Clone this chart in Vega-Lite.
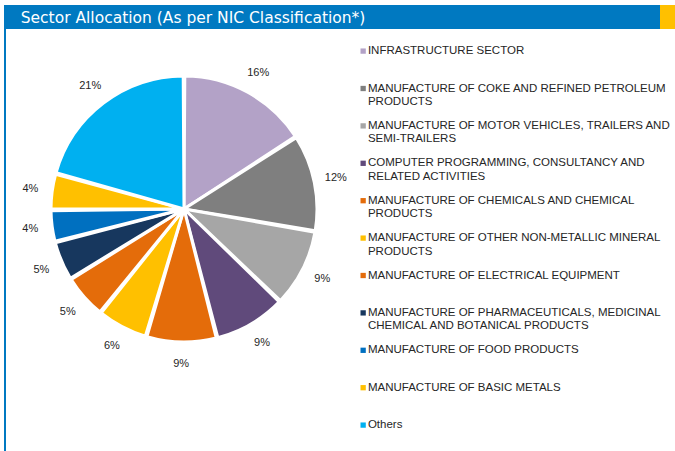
{
  "$schema": "https://vega.github.io/schema/vega-lite/v6.json",
  "padding": {"left": 4, "top": 5, "right": 0, "bottom": 0},
  "background": "#ffffff",
  "spacing": 0,
  "config": {"view": {"stroke": null}, "font": "Liberation Sans"},
  "datasets": {
    "sectors": [
      {"sector": "INFRASTRUCTURE SECTOR", "share": 15.9, "label": "16%"},
      {"sector": "MANUFACTURE OF COKE AND REFINED PETROLEUM PRODUCTS", "share": 11.8, "label": "12%"},
      {"sector": "MANUFACTURE OF MOTOR VEHICLES, TRAILERS AND SEMI-TRAILERS", "share": 9.5, "label": "9%"},
      {"sector": "COMPUTER PROGRAMMING, CONSULTANCY AND RELATED ACTIVITIES", "share": 8.8, "label": "9%"},
      {"sector": "MANUFACTURE OF CHEMICALS AND CHEMICAL PRODUCTS", "share": 8.6, "label": "9%"},
      {"sector": "MANUFACTURE OF OTHER NON-METALLIC MINERAL PRODUCTS", "share": 6.2, "label": "6%"},
      {"sector": "MANUFACTURE OF ELECTRICAL EQUIPMENT", "share": 5.4, "label": "5%"},
      {"sector": "MANUFACTURE OF PHARMACEUTICALS, MEDICINAL CHEMICAL AND BOTANICAL PRODUCTS", "share": 4.8, "label": "5%"},
      {"sector": "MANUFACTURE OF FOOD PRODUCTS", "share": 3.9, "label": "4%"},
      {"sector": "MANUFACTURE OF BASIC METALS", "share": 4.4, "label": "4%"},
      {"sector": "Others", "share": 20.7, "label": "21%"}
    ],
    "heading": [
      {"heading": "Sector Allocation (As per NIC Classification*)"}
    ]
  },
  "vconcat": [
    {
      "spacing": 0,
      "hconcat": [
        {
          "width": 656,
          "height": 24,
          "view": {"fill": "#0079C1", "stroke": null},
          "data": {"name": "heading"},
          "mark": {
            "type": "text",
            "align": "left",
            "baseline": "alphabetic",
            "color": "#ffffff",
            "font": "DejaVu Sans",
            "fontSize": 15.5,
            "fontWeight": "normal"
          },
          "encoding": {
            "text": {"field": "heading", "type": "nominal"},
            "x": {"value": 16.7},
            "y": {"value": 17.7}
          }
        },
        {
          "width": 15,
          "height": 24,
          "view": {"fill": "#FFC000", "stroke": null},
          "data": {"values": []},
          "mark": "point",
          "encoding": {}
        }
      ]
    },
    {
      "spacing": 0,
      "hconcat": [
        {
          "width": 2,
          "height": 422,
          "view": {"fill": "#0079C1", "stroke": null},
          "data": {"values": []},
          "mark": "point",
          "encoding": {}
        },
        {
          "width": 356,
          "height": 360,
          "data": {"name": "sectors"},
          "transform": [{"window": [{"op": "row_number", "as": "idx"}]}],
          "encoding": {
            "theta": {"field": "share", "type": "quantitative", "stack": true},
            "order": {"field": "idx", "type": "quantitative"}
          },
          "layer": [
            {
              "mark": {"type": "arc", "outerRadius": 133, "stroke": "#ffffff", "strokeWidth": 3, "padAngle": 0.012},
              "encoding": {
                "color": {
                  "field": "sector",
                  "type": "nominal",
                  "scale": {
                    "domain": [
                      "INFRASTRUCTURE SECTOR",
                      "MANUFACTURE OF COKE AND REFINED PETROLEUM PRODUCTS",
                      "MANUFACTURE OF MOTOR VEHICLES, TRAILERS AND SEMI-TRAILERS",
                      "COMPUTER PROGRAMMING, CONSULTANCY AND RELATED ACTIVITIES",
                      "MANUFACTURE OF CHEMICALS AND CHEMICAL PRODUCTS",
                      "MANUFACTURE OF OTHER NON-METALLIC MINERAL PRODUCTS",
                      "MANUFACTURE OF ELECTRICAL EQUIPMENT",
                      "MANUFACTURE OF PHARMACEUTICALS, MEDICINAL CHEMICAL AND BOTANICAL PRODUCTS",
                      "MANUFACTURE OF FOOD PRODUCTS",
                      "MANUFACTURE OF BASIC METALS",
                      "Others"
                    ],
                    "range": ["#B3A2C7", "#7F7F7F", "#A6A6A6", "#604A7B", "#E46C0A", "#FFC000", "#E46C0A", "#17375E", "#0070C0", "#FFC000", "#00B0F0"]
                  },
                  "legend": {
                    "orient": "none",
                    "legendX": 353.4,
                    "legendY": 40.35,
                    "title": null,
                    "padding": 0,
                    "symbolType": "square",
                    "symbolSize": 28,
                    "symbolStrokeWidth": 0,
                    "labelFont": "Liberation Sans",
                    "labelFontSize": 11.5,
                    "labelColor": "#262626",
                    "labelLimit": 330,
                    "labelOffset": -1,
                    "rowPadding": 11.4,
                    "labelExpr": "length(datum.label) > 45 ? [substring(datum.label, 0, lastindexof(substring(datum.label, 0, 45), ' ')), substring(datum.label, lastindexof(substring(datum.label, 0, 45), ' ') + 1)] : [datum.label, '']",
                    "encode": {
                      "labels": {"update": {"lineHeight": {"value": 12.7}}},
                      "symbols": {"update": {"strokeWidth": {"value": 0}}}
                    }
                  }
                }
              }
            },
            {
              "mark": {"type": "text", "radius": 155, "fontSize": 11, "font": "Liberation Sans", "color": "#262626"},
              "encoding": {"text": {"field": "label", "type": "nominal"}}
            }
          ]
        }
      ]
    }
  ]
}
